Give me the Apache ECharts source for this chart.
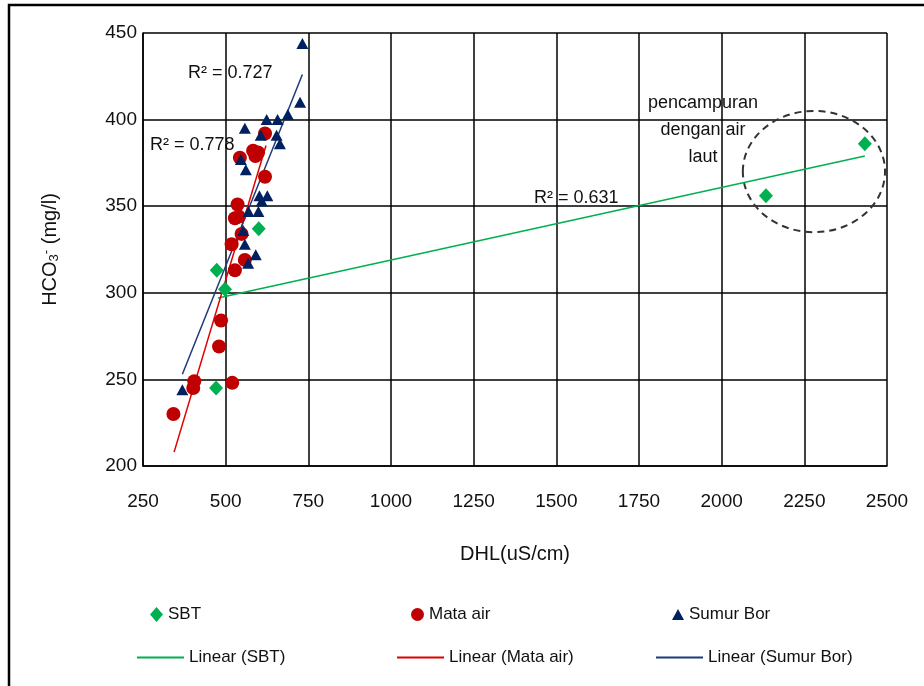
<!DOCTYPE html>
<html>
<head>
<meta charset="utf-8">
<script src="https://cdn.jsdelivr.net/npm/echarts@6/dist/echarts.min.js"></script>
<style>
  html, body { margin: 0; padding: 0; background: #fff; }
  #chart { width: 924px; height: 686px; }
</style>
</head>
<body>
<div id="chart"></div>
<script>
// DHL (uS/cm) vs HCO3- (mg/l)
const sbtData = [[471, 245], [473, 313], [498, 302], [600, 337], [2134, 356], [2433, 386]];
const mataAirData = [
  [342, 230], [402, 245], [405, 249], [520, 248], [480, 269], [486, 284],
  [528, 313], [558, 319], [518, 328], [548, 334], [528, 343], [540, 344],
  [536, 351], [619, 367], [543, 378], [583, 382], [598, 381], [590, 379], [619, 392],
];
const sumurBorData = [
  [369, 244], [568, 317], [591, 322], [558, 328], [553, 336], [569, 347],
  [599, 347], [609, 353], [602, 356], [626, 356], [561, 371], [546, 377],
  [664, 386], [606, 391], [654, 391], [558, 395], [624, 400], [657, 400],
  [688, 403], [725, 410], [732, 444],
];
// trend line end points as drawn in the picture
const sbtTrend = [[477, 297], [2433, 379]];
const mataAirTrend = [[344, 208], [622, 385]];
const sumurBorTrend = [[369, 253], [732, 426]];
// dashed ring round the sea-water points: centre and half-axes in data units
const ringCentre = [[2279, 370]];
const ringRadius = [215, 35];

const xTicks = { min: 250, max: 2500, interval: 250 };
const yTicks = { min: 200, max: 450, interval: 50 };

const font = 'Liberation Sans, Arial, sans-serif';
const green = '#00b050';
const red = '#c00000';
const navy = '#002060';

const chart = echarts.init(document.getElementById('chart'));

const legendText = { fontFamily: font, fontSize: 17, color: '#111' };
function oneLegend(name, left, top, icon, w, h) {
  return {
    left, top, data: [{ name, icon }], itemWidth: w, itemHeight: h,
    itemGap: 4, padding: 0, selectedMode: false, textStyle: legendText,
  };
}

chart.setOption({
  animation: false,
  grid: { left: 143, top: 33, right: 37, bottom: 220 },
  legend: [
    oneLegend('SBT', 150, 606, 'diamond', 13, 15),
    oneLegend('Mata air', 411, 606, 'circle', 13, 15),
    oneLegend('Sumur Bor', 672, 606, 'triangle', 12, 11),
    oneLegend('Linear (SBT)', 137, 649, 'rect', 47, 2),
    oneLegend('Linear (Mata air)', 397, 649, 'rect', 47, 2),
    oneLegend('Linear (Sumur Bor)', 656, 649, 'rect', 47, 2),
  ],
  xAxis: {
    type: 'value',
    min: xTicks.min,
    max: xTicks.max,
    interval: xTicks.interval,
    name: 'DHL(uS/cm)',
    nameLocation: 'middle',
    nameGap: 78,
    nameTextStyle: { fontFamily: font, fontSize: 20, color: '#111' },
    axisLine: { show: true, lineStyle: { color: '#000', width: 1.5 } },
    axisTick: { show: false },
    axisLabel: {
      fontFamily: font, fontSize: 19, color: '#111', margin: 26,
      formatter: (v) => String(v),
    },
    splitLine: { show: true, lineStyle: { color: '#000', width: 1.5 } },
  },
  yAxis: {
    type: 'value',
    min: yTicks.min,
    max: yTicks.max,
    interval: yTicks.interval,
    name: 'HCO{sub|3}{sup|-} (mg/l)',
    nameLocation: 'middle',
    nameGap: 82,
    nameRotate: 90,
    nameTextStyle: {
      fontFamily: font, fontSize: 20, color: '#111',
      rich: {
        sub: { fontFamily: font, fontSize: 13, color: '#111', verticalAlign: 'bottom', padding: [8, 0, 0, 0] },
        sup: { fontFamily: font, fontSize: 13, color: '#111', verticalAlign: 'top', padding: [0, 0, 8, 0] },
      },
    },
    axisLine: { show: true, lineStyle: { color: '#000', width: 1.5 } },
    axisTick: { show: false },
    axisLabel: { fontFamily: font, fontSize: 19, color: '#111', margin: 6 },
    splitLine: { show: true, lineStyle: { color: '#000', width: 1.5 } },
  },
  graphic: [
    {
      type: 'rect', silent: true,
      shape: { x: 9, y: 5, width: 1000, height: 1000 },
      style: { fill: 'none', stroke: '#000', lineWidth: 2.5 },
    },
    {
      type: 'text', left: 188, top: 64,
      style: { text: 'R² = 0.727', fontFamily: font, fontSize: 18, fill: '#111' },
    },
    {
      type: 'text', left: 150, top: 136,
      style: { text: 'R² = 0.778', fontFamily: font, fontSize: 18, fill: '#111' },
    },
    {
      type: 'text', left: 534, top: 189,
      style: { text: 'R² = 0.631', fontFamily: font, fontSize: 18, fill: '#111' },
    },
    {
      type: 'text', x: 703, y: 90,
      style: {
        text: 'pencampuran\ndengan air\nlaut', align: 'center',
        fontFamily: font, fontSize: 18, lineHeight: 27, fill: '#111',
      },
    },
  ],
  series: [
    {
      name: 'Linear (SBT)', type: 'line', data: sbtTrend, symbol: 'none',
      lineStyle: { color: green, width: 1.5 }, itemStyle: { color: green }, z: 2,
    },
    {
      name: 'Linear (Mata air)', type: 'line', data: mataAirTrend, symbol: 'none',
      lineStyle: { color: '#e00000', width: 1.5 }, itemStyle: { color: '#e00000' }, z: 2,
    },
    {
      name: 'Linear (Sumur Bor)', type: 'line', data: sumurBorTrend, symbol: 'none',
      lineStyle: { color: '#1f3a7a', width: 1.5 }, itemStyle: { color: '#1f3a7a' }, z: 2,
    },
    {
      name: 'SBT', type: 'scatter', data: sbtData, symbol: 'diamond', symbolSize: [14, 15],
      itemStyle: { color: green, opacity: 1 }, z: 3,
    },
    {
      name: 'Mata air', type: 'scatter', data: mataAirData, symbol: 'circle', symbolSize: 14,
      itemStyle: { color: red, opacity: 1 }, z: 3,
    },
    {
      name: 'Sumur Bor', type: 'scatter', data: sumurBorData, symbol: 'triangle', symbolSize: [12, 11],
      itemStyle: { color: navy, opacity: 1 }, z: 4,
    },
    {
      name: 'ring', type: 'custom', data: ringCentre, silent: true, z: 1,
      renderItem(params, api) {
        const c = api.coord([api.value(0), api.value(1)]);
        const s = api.size(ringRadius);
        return {
          type: 'ellipse',
          shape: { cx: c[0], cy: c[1], rx: s[0], ry: s[1] },
          style: { fill: 'none', stroke: '#333', lineWidth: 2, lineDash: [7, 5] },
        };
      },
    },
  ],
});
</script>
</body>
</html>
